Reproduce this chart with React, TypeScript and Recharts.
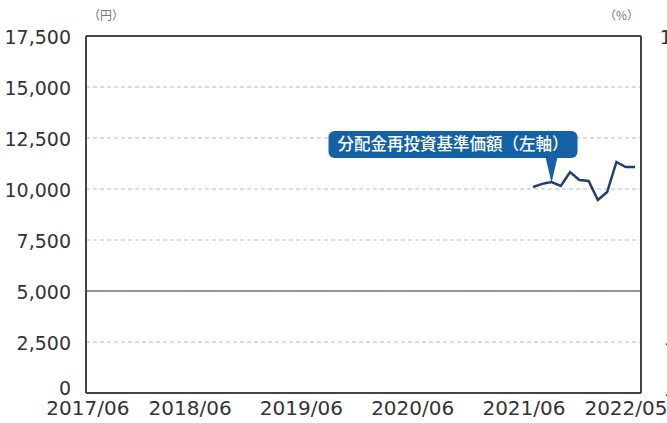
import React from "react";
import {
  LineChart,
  Line,
  XAxis,
  YAxis,
  CartesianGrid,
  ReferenceLine,
  ReferenceDot,
} from "recharts";

// ---- data ----
const AXIS_START = "2017/06";
const NAV_MONTHS = [
  "2021/06", "2021/07", "2021/08", "2021/09", "2021/10", "2021/11",
  "2021/12", "2022/01", "2022/02", "2022/03", "2022/04", "2022/05",
];
const NAV_VALUES = [
  10100, 10250, 10343, 10147, 10833, 10441,
  10392, 9461, 9853, 11324, 11078, 11078,
];
const X_TICK_LABELS = ["2017/06", "2018/06", "2019/06", "2020/06", "2021/06", "2022/05"];
const LEFT_TICKS = [0, 2500, 5000, 7500, 10000, 12500, 15000, 17500];
const RIGHT_TICKS = [-4, -2, 0, 2, 4, 6, 8, 10];
const SERIES_NAME = "分配金再投資基準価額（左軸）";
const CALLOUT_MONTH = "2021/08";

function monthIndex(s: string): number {
  const [y0, m0] = AXIS_START.split("/").map(Number);
  const [y, m] = s.split("/").map(Number);
  return (y - y0) * 12 + (m - m0);
}

const data = NAV_MONTHS.map((m, i) => ({ x: monthIndex(m), nav: NAV_VALUES[i], pct: null as number | null }));
const xTicks = X_TICK_LABELS.map(monthIndex);
const labelByIndex: Record<number, string> = {};
X_TICK_LABELS.forEach((l) => (labelByIndex[monthIndex(l)] = l));
const calloutValue = NAV_VALUES[NAV_MONTHS.indexOf(CALLOUT_MONTH)];

const FONT = "'DejaVu Sans', sans-serif";
const TEXT = "#333";

const XTick = (props: any) => {
  const { x, y, payload, index } = props;
  const dx = index === 0 ? 0 : -9;
  return (
    <text x={x + dx} y={y} dy="0.71em" textAnchor="middle" fill={TEXT} fontSize={20} fontFamily={FONT}>
      {labelByIndex[payload.value]}
    </text>
  );
};

const LeftTick = (props: any) => {
  const { x, y, payload } = props;
  const lift = payload.value === 0 ? -5 : 1;
  return (
    <text x={x} y={y + lift} dy="0.355em" textAnchor="end" fill={TEXT} fontSize={19} fontFamily={FONT}>
      {Number(payload.value).toLocaleString("en-US")}
    </text>
  );
};

const RightTick = (props: any) => {
  const { x, y, payload } = props;
  return (
    <text x={x} y={y + 1} dy="0.355em" textAnchor="end" fill={TEXT} fontSize={19} fontFamily={FONT}>
      {String(payload.value)}
    </text>
  );
};

const Callout = (props: any) => {
  const { cx, cy } = props;
  if (cx == null || cy == null) return null;
  const left = cx - 223;
  const right = cx + 26;
  const top = cy - 51;
  const bottom = cy - 24;
  return (
    <g>
      <rect x={left} y={top} width={right - left} height={bottom - top} rx={6} ry={6} fill="#1461a8" />
      <path d={`M${cx - 6},${bottom - 1} L${cx + 6},${bottom - 1} L${cx},${cy + 1} Z`} fill="#1461a8" />
      <text
        x={(left + right) / 2}
        y={(top + bottom) / 2}
        dy="0.36em"
        textAnchor="middle"
        fill="#fff"
        fontSize={16.5}
        fontWeight={500}
        fontFamily="'Noto Sans CJK JP', sans-serif"
      >
        {SERIES_NAME}
      </text>
    </g>
  );
};

export default function App() {
  return (
    <div
      style={{
        position: "fixed",
        left: 0,
        top: 0,
        width: 667,
        height: 423,
        overflow: "hidden",
        background: "#fff",
      }}
    >
      <LineChart
        width={700}
        height={423}
        data={data}
        margin={{ top: 36, right: 0, left: 0, bottom: 0 }}
      >
        <CartesianGrid
          yAxisId="left"
          vertical={false}
          stroke="#bdbdbd"
          strokeDasharray="4 3"
        />
        <XAxis
          type="number"
          dataKey="x"
          domain={[-0.2, 59.65]}
          ticks={xTicks}
          interval={0}
          height={30}
          tickLine={false}
          axisLine={{ stroke: "#444", strokeWidth: 2 }}
          tick={<XTick />}
          tickMargin={2}
        />
        <YAxis
          yAxisId="left"
          type="number"
          domain={[0, 17500]}
          ticks={LEFT_TICKS}
          interval={0}
          width={86}
          tickLine={false}
          axisLine={{ stroke: "#444", strokeWidth: 2 }}
          tickMargin={9}
          tick={<LeftTick />}
        />
        <YAxis
          yAxisId="right"
          orientation="right"
          type="number"
          domain={[-4, 10]}
          allowDataOverflow
          ticks={RIGHT_TICKS}
          interval={0}
          width={59}
          tickLine={false}
          axisLine={{ stroke: "#444", strokeWidth: 2 }}
          tickMargin={37}
          tick={<RightTick />}
        />
        <ReferenceLine yAxisId="left" y={5000} stroke="#777" strokeWidth={1.5} />
        <ReferenceLine yAxisId="left" y={17500} stroke="#444" strokeWidth={2} />
        <Line
          yAxisId="right"
          type="linear"
          dataKey="pct"
          stroke="none"
          dot={false}
          activeDot={false}
          legendType="none"
          isAnimationActive={false}
        />
        <Line
          yAxisId="left"
          type="linear"
          dataKey="nav"
          stroke="#1f3f70"
          strokeWidth={2.5}
          dot={false}
          isAnimationActive={false}
        />
        <ReferenceDot
          yAxisId="left"
          x={monthIndex(CALLOUT_MONTH)}
          y={calloutValue}
          shape={<Callout />}
        />
      </LineChart>
      <div
        style={{
          position: "absolute",
          left: 88,
          top: 7,
          fontSize: 12,
          color: "#777",
          fontFamily: "'Noto Sans CJK JP', sans-serif",
          lineHeight: "16px",
        }}
      >
        （円）
      </div>
      <div
        style={{
          position: "absolute",
          left: 604,
          top: 7,
          fontSize: 12,
          color: "#777",
          fontFamily: "'Noto Sans CJK JP', sans-serif",
          lineHeight: "16px",
        }}
      >
        （%）
      </div>
    </div>
  );
}
